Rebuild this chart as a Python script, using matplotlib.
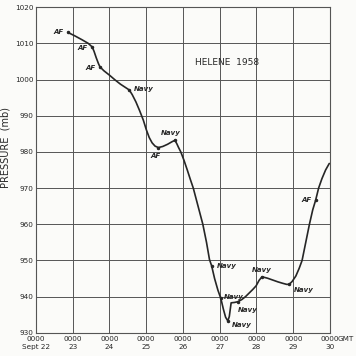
import numpy as np
import matplotlib.pyplot as plt

# days after 0000 GMT Sept 22, pressure in mb
days = [0.87, 1.05, 1.25, 1.42, 1.53, 1.58, 1.64, 1.70, 1.74, 1.85, 2.00, 2.15, 2.30,
        2.45, 2.54, 2.62, 2.72, 2.82, 2.92, 3.00, 3.08, 3.16, 3.24, 3.33, 3.45, 3.58,
        3.70, 3.78, 3.83, 3.88, 3.94, 4.03, 4.12, 4.20, 4.28, 4.41, 4.54, 4.64, 4.72,
        4.78, 4.86, 4.95, 5.03, 5.10, 5.16, 5.22, 5.26, 5.29, 5.31, 5.40, 5.49, 5.60,
        5.70, 5.80, 5.90, 5.99, 6.07, 6.15, 6.30, 6.44, 6.58, 6.71, 6.82, 6.89, 6.97,
        7.07, 7.16, 7.24, 7.34, 7.44, 7.53, 7.61, 7.69, 7.78, 7.88, 7.98]
pressure = [1013.0, 1012.1, 1011.0, 1010.0, 1009.0, 1007.8, 1006.0, 1004.4, 1003.5,
            1002.4, 1001.2, 999.9, 998.7, 997.7, 997.1, 995.8, 993.8, 991.4, 988.8,
            986.2, 984.0, 982.5, 981.6, 981.2, 981.5, 982.1, 982.8, 983.2, 982.3,
            981.2, 980.0, 977.6, 974.9, 972.4, 970.0, 965.0, 960.0, 955.0, 950.3,
            948.5, 945.0, 941.8, 939.5, 936.5, 934.3, 933.3, 934.5, 936.8, 938.3,
            938.4, 938.6, 939.2, 940.0, 941.0, 942.0, 943.0, 944.5, 945.5, 945.1,
            944.6, 944.1, 943.7, 943.4, 943.4, 944.2, 945.7, 947.8, 950.0, 955.0,
            960.0, 964.0, 966.7, 970.0, 972.6, 975.0, 976.8]

# reconnaissance fixes
fixes_day = [0.87, 1.53, 1.74, 2.54, 3.33, 3.78, 4.78, 5.03, 5.49, 5.22, 6.15, 6.89, 7.61]
fixes_p = [1013.0, 1009.0, 1003.5, 997.1, 981.2, 983.2, 948.5, 939.5, 938.6, 933.3,
           945.5, 943.4, 966.7]
fixes_src = ['AF', 'AF', 'AF', 'Navy', 'AF', 'Navy', 'Navy', 'Navy', 'Navy', 'Navy',
             'Navy', 'Navy', 'AF']
offsets = [(-3, 0), (-3, -1), (-3, -1), (3, 1), (-2, -6), (-3, 5), (4, 0), (2, 1),
           (0, -6), (3, -3), (0, 5), (3, -4), (-3, 0)]
aligns = ['right', 'right', 'right', 'left', 'center', 'center', 'left', 'left',
          'left', 'left', 'center', 'left', 'right']

xticks = [0, 1, 2, 3, 4, 5, 6, 7, 8]
xlabels = ['0000\nSept 22', '0000\n23', '0000\n24', '0000\n25', '0000\n26',
           '0000\n27', '0000\n28', '0000\n29', '0000\n30']
yticks = [930, 940, 950, 960, 970, 980, 990, 1000, 1010, 1020]

ink = '#262626'
grid = '#555555'

fig = plt.figure(figsize=(3.56, 3.56), dpi=100)
fig.patch.set_facecolor('#fbfbf9')
ax = fig.add_axes([0.101, 0.065, 0.826, 0.915])
ax.set_facecolor('#fbfbf9')

ax.plot(days, pressure, color=ink, lw=1.2, solid_capstyle='round', solid_joinstyle='round')
ax.plot(fixes_day, fixes_p, 'o', color=ink, ms=1.5)

for d, p, s, off, ha in zip(fixes_day, fixes_p, fixes_src, offsets, aligns):
    ax.annotate(s, (d, p), xytext=off, textcoords='offset points', ha=ha, va='center',
                fontsize=5, style='italic', fontweight='bold', color=ink)

ax.set_xlim(0, 8)
ax.set_ylim(930, 1020)
ax.set_xticks(xticks)
ax.set_xticklabels(xlabels, fontsize=5.2, color=ink, linespacing=1.5)
ax.set_yticks(yticks)
ax.set_yticklabels([str(v) for v in yticks], fontsize=5.2, color=ink)
ax.tick_params(length=0, pad=2)
ax.grid(True, color=grid, lw=0.7)
for sp in ax.spines.values():
    sp.set_color(grid)
    sp.set_linewidth(0.8)

ax.annotate('GMT', (8, 930), xytext=(5.5, -2), textcoords='offset points',
            fontsize=5.2, color=ink, ha='left', va='top')
ax.text(0.65, 0.83, 'HELENE  1958', transform=ax.transAxes, fontsize=6.5,
        color=ink, ha='center', va='center')
ax.set_ylabel('PRESSURE  (mb)', fontsize=7, color=ink)
ax.yaxis.set_label_coords(-0.085, 0.57)

fig.savefig('out.png', dpi=100, facecolor=fig.get_facecolor())
